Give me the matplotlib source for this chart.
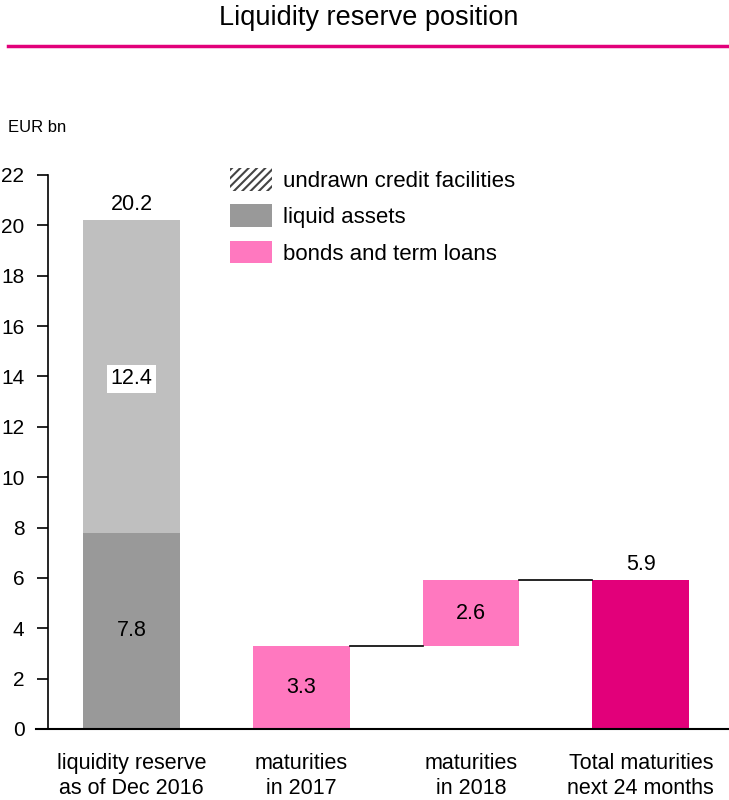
import matplotlib.pyplot as plt
from matplotlib.patches import Patch

categories = ['liquidity reserve\nas of Dec 2016', 'maturities\nin 2017',
              'maturities\nin 2018', 'Total maturities\nnext 24 months']
liquid_assets = 7.8
undrawn_facilities = 12.4
reserve_total = 20.2
maturities = [3.3, 2.6]
total_maturities = 5.9
yticks = list(range(0, 23, 2))

c_undrawn = '#bfbfbf'
c_liquid = '#999999'
c_bonds = '#ff78bf'
c_total = '#e2007a'

plt.rcParams['font.family'] = ['Liberation Sans', 'DejaVu Sans']
plt.rcParams['hatch.linewidth'] = 1.5

fig = plt.figure(figsize=(7.29, 8.0), dpi=100)
ax = fig.add_axes([48 / 729, 71 / 800, 1 - 48 / 729, 554 / 800])

w = 0.57
x = [0, 1, 2, 3]
vfs = 15.5

# liquidity reserve stack
ax.bar(x[0], liquid_assets, w, color=c_liquid)
ax.bar(x[0], undrawn_facilities, w, bottom=liquid_assets, color=c_undrawn)

# maturities waterfall
base = 0
for i, m in enumerate(maturities):
    ax.bar(x[i + 1], m, w, bottom=base, color=c_bonds)
    ax.text(x[i + 1], base + m / 2, f'{m:.1f}', ha='center', va='center', fontsize=vfs)
    top = base + m
    ax.plot([x[i + 1] + w / 2, x[i + 2] - w / 2], [top, top], color='black', lw=1.2)
    base = top

ax.bar(x[3], total_maturities, w, color=c_total)

ax.text(x[0], liquid_assets / 2, f'{liquid_assets:.1f}', ha='center', va='center', fontsize=vfs)
ax.text(x[0], liquid_assets + undrawn_facilities / 2 - 0.1, f'{undrawn_facilities:.1f}',
        ha='center', va='center', fontsize=vfs,
        bbox=dict(facecolor='white', edgecolor='none', pad=2.5))
ax.text(x[0], reserve_total + 0.2, f'{reserve_total:.1f}', ha='center', va='bottom', fontsize=vfs)
ax.text(x[3], total_maturities + 0.2, f'{total_maturities:.1f}', ha='center', va='bottom', fontsize=vfs)

ax.set_xlim(-0.494, 3.52)
ax.set_ylim(0, 22)
ax.set_yticks(yticks)
ax.set_xticks(x)
ax.set_xticklabels(categories, fontsize=15.5, linespacing=1.25)
ax.tick_params(axis='y', direction='out', length=8, width=1.2, labelsize=15, pad=9)
ax.tick_params(axis='x', length=0, pad=17)
for s in ['top', 'right']:
    ax.spines[s].set_visible(False)
ax.spines['left'].set_linewidth(1.2)
ax.spines['bottom'].set_linewidth(1.5)
ax.spines['bottom'].set_bounds(-0.565, 3.52)

handles = [Patch(facecolor='white', edgecolor='#444444', hatch='////', lw=0),
           Patch(facecolor=c_liquid),
           Patch(facecolor=c_bonds)]
labels = ['undrawn credit facilities', 'liquid assets', 'bonds and term loans']
leg = fig.legend(handles, labels, loc='upper left', bbox_to_anchor=(230 / 729, 1 - 168 / 800),
                 frameon=False, handlelength=1.9, handleheight=1.2, handletextpad=0.5,
                 labelspacing=0.56, borderaxespad=0, borderpad=0,
                 prop={'size': 16})

fig.text(369 / 729, 1 - 18 / 800, 'Liquidity reserve position', ha='center', va='center',
         fontsize=19.5)
fig.add_artist(plt.Line2D([8 / 729, 727 / 729], [1 - 46 / 800, 1 - 46 / 800],
                          color=c_total, lw=2.5))
fig.text(8 / 729, 1 - 127 / 800, 'EUR bn', ha='left', va='center', fontsize=12)

fig.savefig('out.png', dpi=100)
